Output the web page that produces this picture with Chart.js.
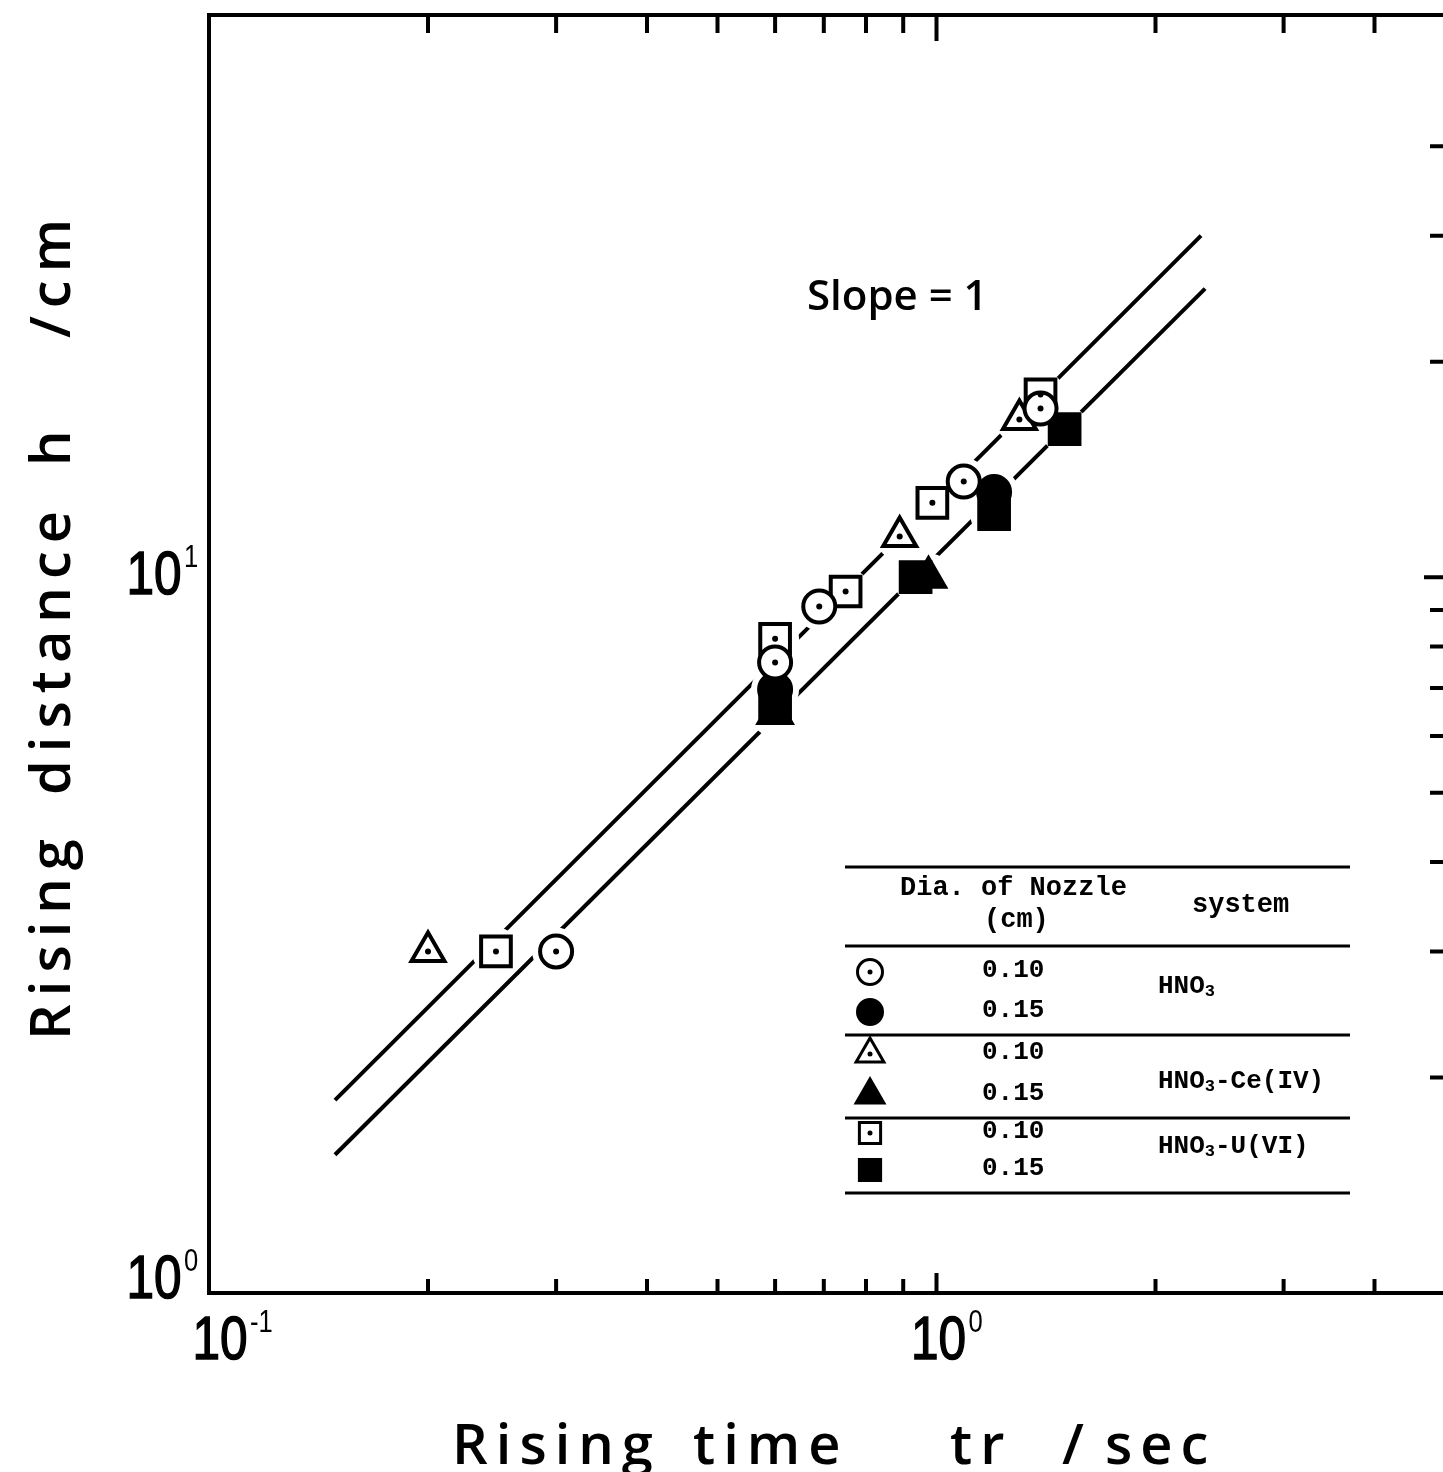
<!DOCTYPE html>
<html>
<head>
<meta charset="utf-8">
<script src="https://cdn.jsdelivr.net/npm/chart.js@4.4.0/dist/chart.umd.min.js"></script>
<style>
  html, body { margin: 0; padding: 0; background: #fff; }
  #wrap { width: 1443px; height: 1472px; overflow: hidden; }
  canvas { display: block; }
</style>
</head>
<body>
<div id="wrap"><canvas id="c" width="1460" height="1472"></canvas></div>
<script>
// rising time tr (sec) vs rising distance h (cm)
const hno3_010   = [[0.30, 3.0], [0.60, 7.6], [0.69, 9.1], [1.09, 13.6], [1.39, 17.2]]
const hno3_015   = [[0.60, 6.97], [1.20, 13.15]]
const ce_010     = [[0.20, 3.0], [0.89, 11.4], [1.30, 16.6]]
const ce_015     = [[0.60, 6.45], [0.975, 10.0]]
const u_010      = [[0.248, 3.0], [0.60, 8.2], [0.75, 9.55], [0.987, 12.7], [1.39, 18.0]]
const u_015      = [[0.60, 6.65], [0.936, 10.0], [1.20, 12.25], [1.50, 16.1]]

// the two slope = 1 lines
const fitUpper = [[0.149, 1.86], [2.31, 30.0]]
const fitLower = [[0.149, 1.56], [2.34, 25.3]]

const xTicksMajor = [0.1, 1]
const xTicksMinor = [0.2, 0.3, 0.4, 0.5, 0.6, 0.7, 0.8, 0.9, 2, 3, 4]
const yTicksMajor = [1, 10]
const yTicksMinor = [2, 3, 4, 5, 6, 7, 8, 9, 20, 30, 40]
const xTickLabels = [[0.1, "-1"], [1, "0"]]
const yTickLabels = [[1, "0"], [10, "1"]]

const legendRows = [
  ["circle", false, "0.10"], ["circle", true, "0.15"],
  ["triangle", false, "0.10"], ["triangle", true, "0.15"],
  ["rect", false, "0.10"], ["rect", true, "0.15"]
]
const systems = [["HNO", "3", ""], ["HNO", "3", "-Ce(IV)"], ["HNO", "3", "-U(VI)"]]

const pts = a => a.map(p => ({ x: p[0], y: p[1] }))
const numFont = '"Liberation Sans", Arial, sans-serif'
const monoFont = '"Liberation Mono", "DejaVu Sans Mono", monospace'
const titleFont = '"Open Sans", "DejaVu Sans", sans-serif'

const sizes = { circle: 16, rect: 21, triangle: 19 }
function marker(data, style, filled, order) {
  return { type: "scatter", data: pts(data), pointStyle: style, pointRadius: sizes[style],
    pointHoverRadius: sizes[style], pointBorderWidth: 4, borderColor: "#000",
    pointBackgroundColor: filled ? "#000" : "#fff", pointBorderColor: "#000", order }
}
function dots(data) {
  return { type: "scatter", data: pts(data), pointStyle: "circle", pointRadius: 3,
    pointHoverRadius: 3, pointBorderWidth: 0, pointBackgroundColor: "#000", order: 1 }
}
// white clearing round each symbol, so the fitted lines break there as in the print
function halo(...sets) {
  return { type: "scatter", data: pts([].concat(...sets)), pointStyle: "circle", pointRadius: 24,
    pointHoverRadius: 24, pointBorderWidth: 0, pointBackgroundColor: "#fff", order: 6 }
}
function fit(data) {
  return { type: "line", data: pts(data), borderColor: "#000", borderWidth: 4,
    pointRadius: 0, fill: false, order: 9 }
}

function power(ctx, exp, cx, cy) {
  ctx.save()
  ctx.translate(cx, cy); ctx.scale(0.8, 1)
  ctx.font = "62px " + numFont
  ctx.textBaseline = "middle"; ctx.textAlign = "left"
  const w = ctx.measureText("10").width
  ctx.lineWidth = 1.5; ctx.strokeStyle = "#000"
  ctx.fillText("10", -w / 2, 0); ctx.strokeText("10", -w / 2, 0)
  ctx.font = "32px " + numFont
  ctx.fillText(exp, w / 2 + 3, -19)
  ctx.restore()
}

function shape(ctx, style, filled, x, y, r) {
  ctx.beginPath()
  if (style === "circle") ctx.arc(x, y, r, 0, Math.PI * 2)
  else if (style === "rect") { const s = r * Math.SQRT1_2; ctx.rect(x - s, y - s, 2 * s, 2 * s) }
  else {
    for (let i = 0; i < 3; i++) {
      const a = i * 2 * Math.PI / 3
      ctx.lineTo(x + Math.sin(a) * r, y - Math.cos(a) * r)
    }
    ctx.closePath()
  }
  ctx.fillStyle = filled ? "#000" : "#fff"
  ctx.fill(); ctx.stroke()
  if (!filled) { ctx.beginPath(); ctx.arc(x, y, 2.5, 0, Math.PI * 2); ctx.fillStyle = "#000"; ctx.fill() }
}

function chem(ctx, parts, x, y) {
  ctx.textBaseline = "middle"; ctx.textAlign = "left"
  ctx.font = "bold 26px " + monoFont
  ctx.fillText(parts[0], x, y); x += ctx.measureText(parts[0]).width
  ctx.font = "bold 17px " + monoFont
  ctx.fillText(parts[1], x, y + 6); x += ctx.measureText(parts[1]).width
  ctx.font = "bold 26px " + monoFont
  ctx.fillText(parts[2], x, y)
}

function spaced(ctx, word, x, y) {
  ctx.letterSpacing = "8px"
  ctx.fillText(word, x, y)
  ctx.letterSpacing = "0px"
}

const paper = {
  id: "paper",
  afterDraw(chart) {
    const { ctx, chartArea: a, scales: { x, y } } = chart
    ctx.save()
    ctx.strokeStyle = "#000"; ctx.fillStyle = "#000"; ctx.lineCap = "butt"
    ctx.lineWidth = 4
    ctx.strokeRect(a.left, a.top, a.right - a.left, a.bottom - a.top)

    // inward ticks: top, bottom, right
    ctx.beginPath()
    xTicksMinor.concat(xTicksMajor.slice(1)).forEach(v => {
      const px = x.getPixelForValue(v), big = xTicksMajor.includes(v)
      ctx.moveTo(px, a.top); ctx.lineTo(px, a.top + (big ? 26 : 18))
      ctx.moveTo(px, a.bottom); ctx.lineTo(px, a.bottom - (big ? 20 : 14))
    })
    yTicksMinor.concat(yTicksMajor.slice(1)).forEach(v => {
      const py = y.getPixelForValue(v), big = yTicksMajor.includes(v)
      ctx.moveTo(a.right, py); ctx.lineTo(a.right - (big ? 21 : 15), py)
    })
    ctx.stroke()

    // tick labels
    xTickLabels.forEach(([v, e]) => power(ctx, e, x.getPixelForValue(v) + (v < 1 ? 11 : 2), a.bottom + 49))
    yTickLabels.forEach(([v, e]) => power(ctx, e, 154, Math.min(y.getPixelForValue(v), a.bottom - 12)))

    // axis titles
    ctx.font = "600 56px " + titleFont
    ctx.textAlign = "left"; ctx.textBaseline = "alphabetic"
    spaced(ctx, "Rising", 452, 1464)
    spaced(ctx, "time", 693, 1464)
    spaced(ctx, "tr", 950, 1464)
    spaced(ctx, "/", 1062, 1464)
    spaced(ctx, "sec", 1105, 1464)
    ctx.save()
    ctx.translate(70, 0); ctx.rotate(-Math.PI / 2)
    spaced(ctx, "Rising", -1040, 0)
    spaced(ctx, "distance", -795, 0)
    spaced(ctx, "h", -466, 0)
    spaced(ctx, "/cm", -338, 0)
    ctx.restore()

    // slope note
    ctx.font = "600 42px " + titleFont
    ctx.textBaseline = "middle"
    ctx.fillText("Slope = 1", 807, 298)

    // legend table
    ctx.lineWidth = 3
    ctx.beginPath();
    [867, 946, 1035, 1118, 1193].forEach(ly => { ctx.moveTo(845, ly); ctx.lineTo(1350, ly) })
    ctx.stroke()
    ctx.font = "bold 27px " + monoFont
    ctx.fillText("Dia. of Nozzle", 900, 888)
    ctx.fillText("(cm)", 984, 920)
    ctx.fillText("system", 1192, 905)
    const rowY = [972, 1012, 1054, 1095, 1133, 1170]
    ctx.lineWidth = 3
    legendRows.forEach(([st, filled, label], i) => {
      shape(ctx, st, filled, 870, rowY[i], st === "rect" ? 15 : (st === "triangle" ? 16 : 12.5))
      ctx.fillStyle = "#000"
      ctx.font = "bold 26px " + monoFont
      ctx.fillText(label, 982, rowY[i] - 2)
    })
    chem(ctx, systems[0], 1158, 986)
    chem(ctx, systems[1], 1158, 1081)
    chem(ctx, systems[2], 1158, 1146)
    ctx.restore()
  }
}

new Chart(document.getElementById("c"), {
  data: {
    datasets: [
      fit(fitUpper), fit(fitLower),
      halo(hno3_010, hno3_015, ce_010, ce_015, u_010, u_015),
      marker(hno3_015, "circle", true, 3),
      marker(ce_015, "triangle", true, 3),
      marker(u_015, "rect", true, 3),
      marker(hno3_010, "circle", false, 2),
      marker(ce_010, "triangle", false, 2),
      marker(u_010, "rect", false, 2),
      dots(hno3_010), dots(ce_010), dots(u_010)
    ]
  },
  options: {
    responsive: false,
    animation: false,
    layout: { autoPadding: false, padding: { left: 209, top: 15, right: 15, bottom: 179 } },
    scales: {
      x: { type: "logarithmic", min: 0.1, max: 5, display: false },
      y: { type: "logarithmic", min: 1, max: 61, display: false }
    },
    plugins: { legend: { display: false }, tooltip: { enabled: false } }
  },
  plugins: [paper]
})
</script>
</body>
</html>
